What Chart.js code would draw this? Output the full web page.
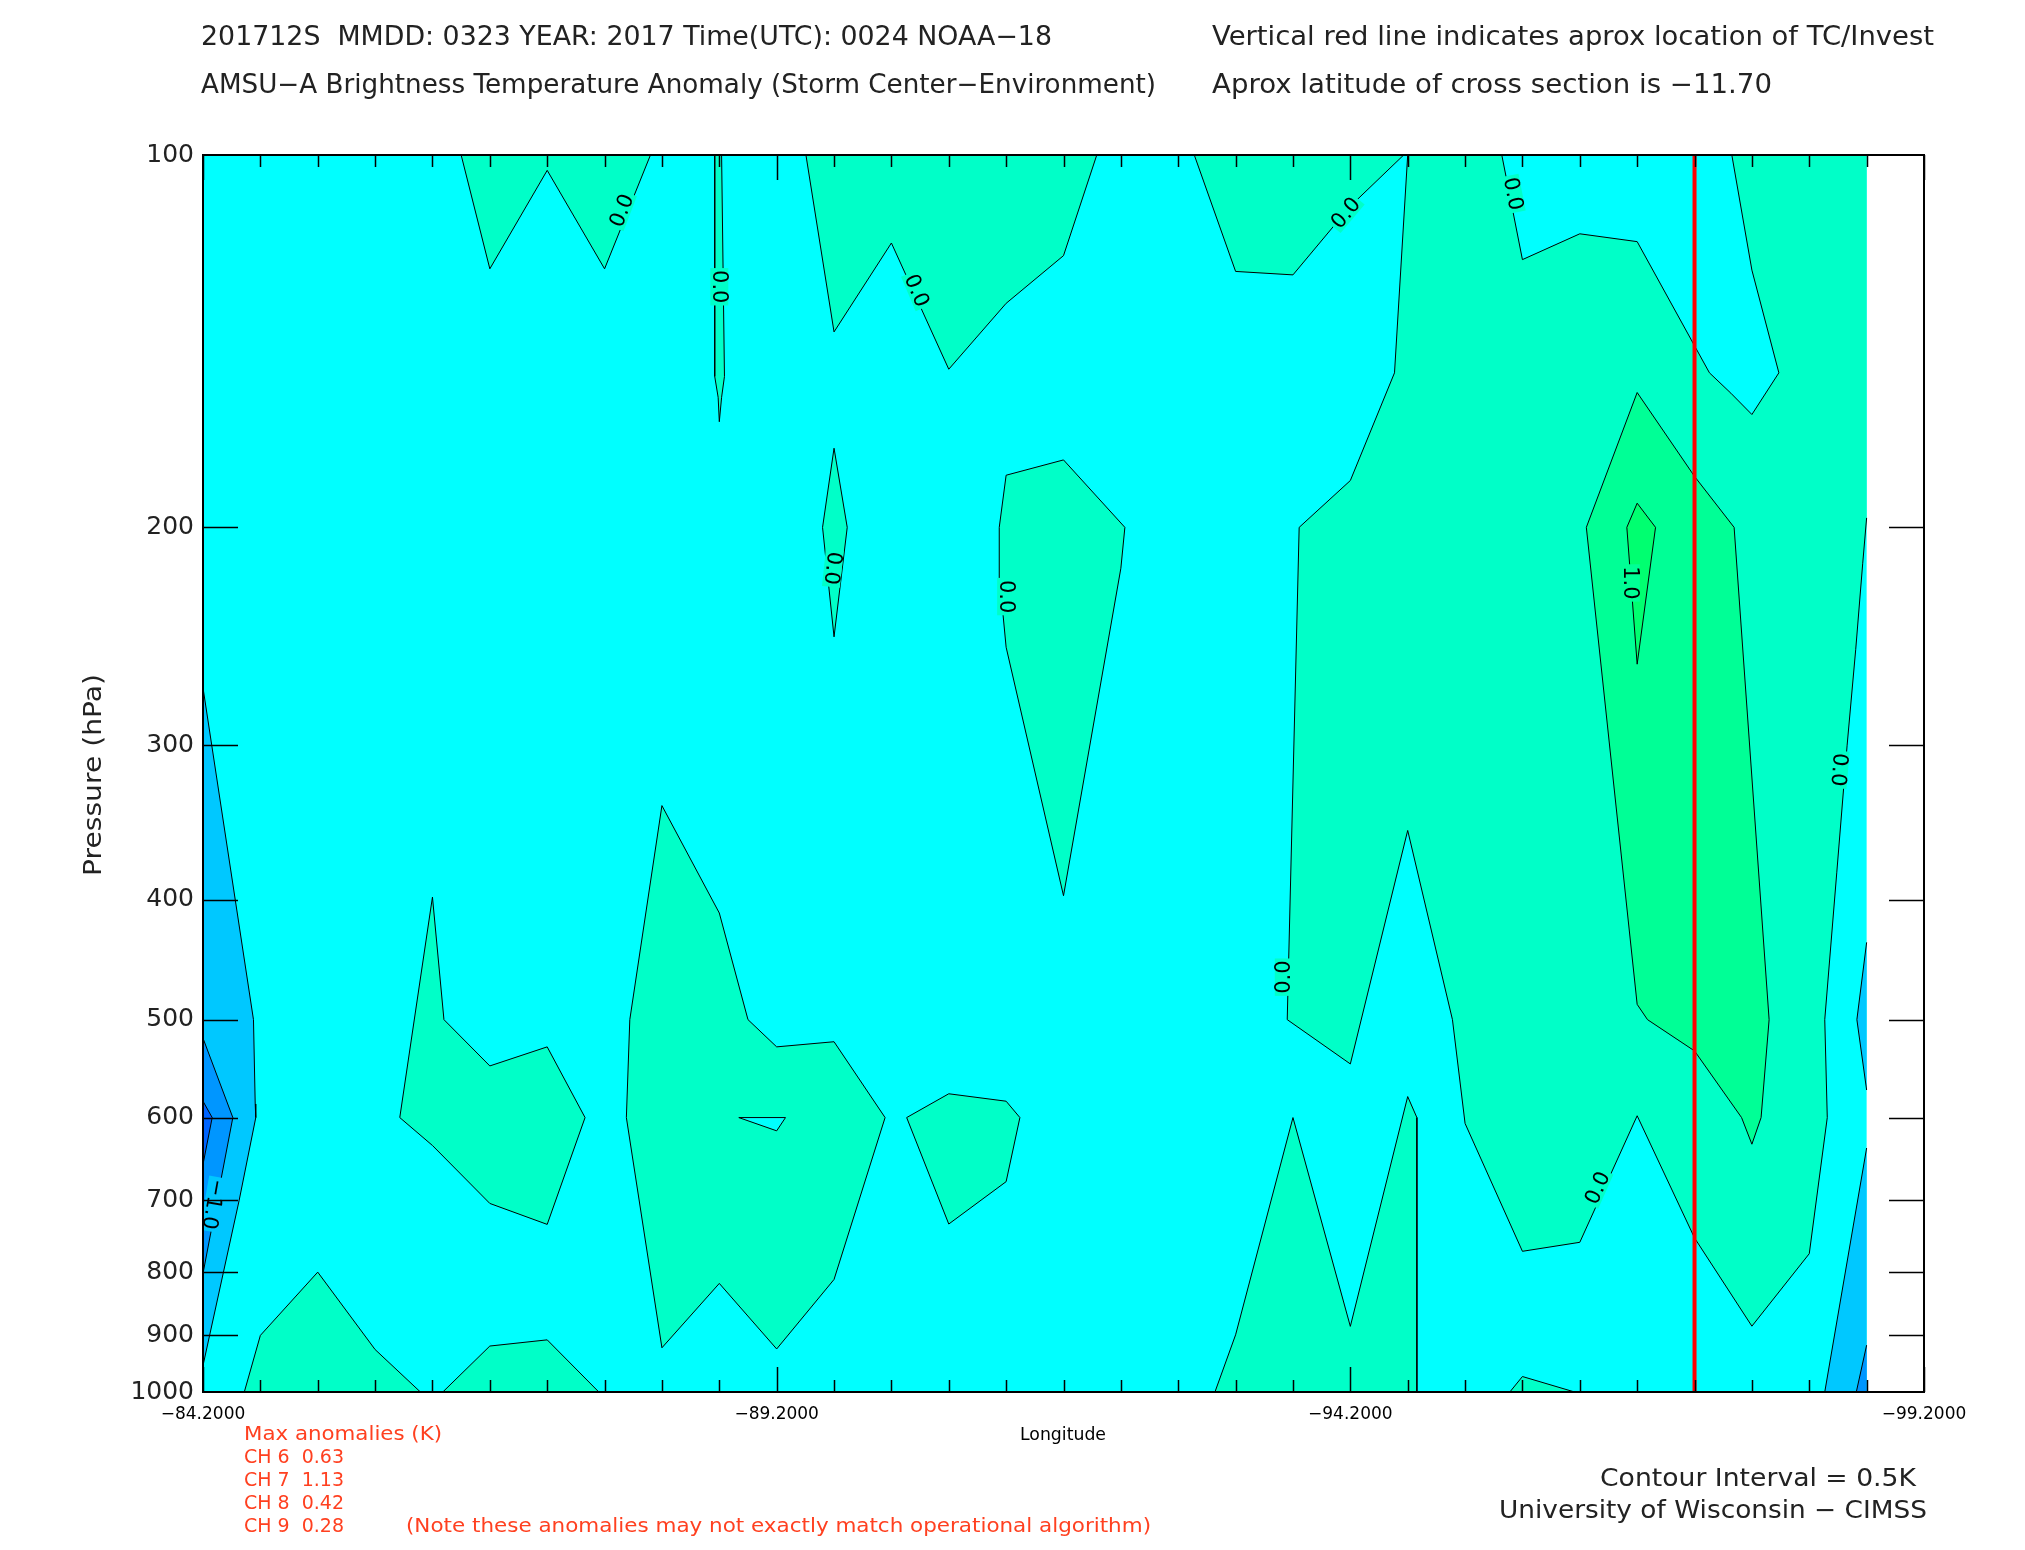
<!DOCTYPE html>
<html>
<head>
<meta charset="utf-8">
<title>AMSU-A Brightness Temperature Anomaly</title>
<script src="https://cdn.jsdelivr.net/npm/chart.js@4.4.0/dist/chart.umd.min.js"></script>
<style>
  html, body { margin: 0; padding: 0; background: #fff; }
  #wrap { width: 2025px; height: 1550px; }
</style>
</head>
<body>
<div id="wrap"><canvas id="chart" width="2025" height="1550"></canvas></div>
<script>
// Axes ------------------------
const xTicks = [-84.2, -89.2, -94.2, -99.2];
const yTicks = [100, 200, 300, 400, 500, 600, 700, 800, 900, 1000];
const stormLon = -97.2;

// data box (longitude, pressure hPa)
const dataBox = [[-84.2, 100], [-98.7, 100], [-98.7, 1000], [-84.2, 1000]];

// 0.0 .. 0.5 K regions
const zoneA = [[-86.45, 100], [-86.7, 123.6], [-87.2, 102.9], [-87.7, 123.6], [-88.10, 100]];
const zoneB = [[-88.66, 100], [-88.66, 151], [-88.69, 157], [-88.70, 164.3], [-88.72, 157], [-88.745, 151], [-88.72, 100]];
const zoneC = [[-89.455, 100], [-89.7, 139], [-90.2, 117.8], [-90.7, 149], [-91.2, 131.8], [-91.7, 120.6], [-91.99, 100]];
const zoneD = [[-89.7, 172.6], [-89.815, 200], [-89.7, 245.2], [-89.6, 200]];
const zoneE = [[-91.2, 181.5], [-91.7, 176.4], [-92.235, 200], [-92.2, 215.8], [-91.7, 397], [-91.2, 250], [-91.145, 221], [-91.14, 200]];
const zoneF = [[-85.915, 600], [-86.2, 398], [-86.3, 500], [-86.7, 545], [-87.2, 526], [-87.53, 600], [-87.2, 732], [-86.7, 704], [-86.2, 632]];
const zoneG = [[-88.2, 335.7], [-88.7, 410], [-88.95, 500], [-89.2, 526], [-89.7, 521], [-90.145, 600], [-89.7, 811], [-89.2, 923], [-88.7, 817], [-88.2, 921], [-87.89, 600], [-87.92, 500]];
const holeG = [[-88.87, 600], [-89.277, 600], [-89.2, 615]];
const zoneH = [[-90.333, 600], [-90.7, 574], [-91.2, 582], [-91.32, 600], [-91.2, 676], [-90.7, 731.5]];
const zoneI = [[-84.56, 1000], [-84.7, 900], [-85.2, 800], [-85.7, 924], [-86.095, 1000]];
const zoneJ = [[-86.29, 1000], [-86.7, 918], [-87.2, 907.5], [-87.65, 1000]];
const zoneK = [[-92.84, 100], [-93.2, 124.2], [-93.7, 125], [-94.2, 110], [-94.665, 100]];
const zoneL = [
  [-94.7, 100], [-94.585, 150], [-94.2, 183.3], [-93.754, 200], [-93.65, 500], [-94.2, 543], [-94.7, 351.6],
  [-95.09, 500], [-95.2, 606.6], [-95.7, 769.6], [-96.2, 756.8], [-96.7, 598], [-97.2, 750.7], [-97.7, 884.7],
  [-98.2, 773], [-98.357, 600], [-98.335, 500], [-98.44, 380], [-98.53, 300], [-98.605, 251], [-98.666, 213.8],
  [-98.7, 196.5], [-98.7, 100], [-97.525, 100], [-97.7, 123.9], [-97.935, 150], [-97.7, 162.1], [-97.517, 155.8],
  [-97.33, 150], [-96.7, 117.5], [-96.2, 115.8], [-95.7, 121.5], [-95.52, 100],
];
const zoneM = [[-93.02, 1000], [-93.2, 899], [-93.7, 600], [-94.2, 885], [-94.7, 577], [-94.78, 600], [-94.78, 1000]];
const zoneN = [[-95.59, 1000], [-95.7, 971.6], [-96.155, 1000]];

// 0.5 .. 1.0 K and > 1.0 K
const warmP = [[-96.7, 155.6], [-97.2, 181.9], [-97.545, 200], [-97.85, 500], [-97.78, 600], [-97.7, 630.5], [-97.61, 600], [-97.2, 530], [-96.79, 500], [-96.7, 486], [-96.257, 200]];
const warmQ = [[-96.7, 191.2], [-96.86, 200], [-96.7, 258], [-96.61, 200]];

// negative regions at the edges
const coldL1 = [[-84.2, 269.6], [-84.64, 500], [-84.655, 585], [-84.66, 600], [-84.515, 700], [-84.2, 952]];
const coldL2 = [[-84.2, 517.6], [-84.46, 600], [-84.2, 802]];
const coldL3 = [[-84.2, 582], [-84.28, 600], [-84.2, 654.6]];
const coldR1 = [[-98.7, 433], [-98.615, 500], [-98.7, 570]];
const coldR2 = [[-98.7, 635], [-98.335, 1000], [-98.7, 1000]];
const coldR3 = [[-98.7, 916.5], [-98.61, 1000], [-98.7, 1000]];

// contour labels
const labelLon = [-87.85, -88.70, -90.42, -89.69, -91.20, -94.16, -95.62, -96.645, -93.62, -96.355, -98.46, -84.29];
const labelP = [110.9, 127.8, 128.7, 215.8, 227.5, 111.4, 107.5, 221.8, 462, 684, 314, 705];
const labelText = ['0.0', '0.0', '0.0', '0.0', '0.0', '0.0', '0.0', '1.0', '0.0', '0.0', '0.0', '−1.0'];
const labelAngle = [-69, 90, 67, 96, 90, -50, 79, 90, -90, -66, 95, 100];

// Colors ----------------------
const CYAN = '#00ffff';
const AQUA = '#00ffc8';
const GREEN = '#00ff96';
const GREEN2 = '#00ff70';
const BLUE1 = '#00c8ff';
const BLUE2 = '#0096ff';
const BLUE3 = '#0064ff';
const NOTE_RED = '#ff4020';
const FONT = '"DejaVu Sans", sans-serif';
const labelFill = [AQUA, AQUA, AQUA, AQUA, AQUA, AQUA, AQUA, GREEN, AQUA, AQUA, AQUA, BLUE1];

const onFrame = (a, b) =>
  (a.x === b.x && (a.x === -84.2 || a.x === -98.7)) ||
  (a.y === b.y && (a.y === 100 || a.y === 1000));

const closed = pts => [...pts, pts[0]].map(([x, y]) => ({ x, y }));

const fillOf = ([pts, color]) => ({
  data: closed(pts),
  showLine: true,
  fill: 'shape',
  backgroundColor: color,
  borderColor: 'rgba(0,0,0,0)',
  borderWidth: 0,
  pointRadius: 0,
  tension: 0,
});

// contour line, without the parts that lie on the frame
const lineOf = ([pts]) => ({
  data: closed(pts),
  showLine: true,
  fill: false,
  borderColor: '#000',
  borderWidth: 1,
  pointRadius: 0,
  tension: 0,
  segment: {
    borderColor: c => (onFrame(c.p0.parsed, c.p1.parsed) ? 'rgba(0,0,0,0)' : '#000'),
  },
});

const regions = [
  ...[zoneA, zoneB, zoneC, zoneD, zoneE, zoneF, zoneG, zoneH, zoneI, zoneJ, zoneK, zoneL, zoneM, zoneN].map(z => [z, AQUA]),
  [holeG, CYAN],
  [warmP, GREEN],
  [warmQ, GREEN2],
  [coldL1, BLUE1],
  [coldL2, BLUE2],
  [coldL3, BLUE3],
  [coldR1, BLUE1],
  [coldR2, BLUE1],
  [coldR3, BLUE2],
];

const datasets = [
  fillOf([dataBox, CYAN]),
  ...regions.map(fillOf),
  ...regions.map(lineOf),
  {
    data: [{ x: stormLon, y: 100 }, { x: stormLon, y: 1000 }],
    showLine: true,
    fill: false,
    borderColor: '#ff0000',
    borderWidth: 4,
    pointRadius: 0,
  },
];
// paint in array order
datasets.forEach((d, i) => { d.order = datasets.length - i; });

// Plugins ---------------------
const putText = (ctx, str, x, y, size, width, color = '#000', rotate = 0) => {
  ctx.save();
  ctx.font = `${size}px ${FONT}`;
  ctx.fillStyle = color;
  ctx.textBaseline = 'middle';
  ctx.textAlign = 'left';
  ctx.translate(x, y);
  if (rotate) ctx.rotate(rotate);
  const w = ctx.measureText(str).width;
  if (width) ctx.scale(width / w, 1);
  ctx.fillText(str, 0, 0);
  ctx.restore();
};

const frameTicks = {
  id: 'frameTicks',
  afterDatasetsDraw(chart) {
    const { ctx, chartArea: a, scales: { x, y } } = chart;
    ctx.save();
    // contour labels, kept inside the plot
    ctx.save();
    ctx.beginPath();
    ctx.rect(a.left, a.top, a.right - a.left, a.bottom - a.top);
    ctx.clip();
    ctx.font = `21px ${FONT}`;
    ctx.textAlign = 'center';
    ctx.textBaseline = 'middle';
    labelText.forEach((t, i) => {
      const px = x.getPixelForValue(labelLon[i]);
      const py = y.getPixelForValue(labelP[i]);
      const w = ctx.measureText(t).width;
      ctx.save();
      ctx.translate(px, py);
      ctx.rotate((labelAngle[i] * Math.PI) / 180);
      ctx.fillStyle = labelFill[i];
      ctx.fillRect(-w / 2 - 2, -9, w + 4, 18);
      ctx.fillStyle = '#000';
      ctx.fillText(t, 0, 1);
      ctx.restore();
    });
    ctx.restore();

    ctx.strokeStyle = '#000';
    ctx.lineWidth = 1.5;
    ctx.beginPath();
    for (let i = 0; i <= 30; i++) {
      const v = +(-84.2 - 0.5 * i).toFixed(1);
      const px = Math.round(x.getPixelForValue(v)) + 0.5;
      const len = xTicks.includes(v) ? 25 : 12;
      ctx.moveTo(px, a.bottom);
      ctx.lineTo(px, a.bottom - len);
      ctx.moveTo(px, a.top);
      ctx.lineTo(px, a.top + len);
    }
    yTicks.slice(1, -1).forEach(v => {
      const py = Math.round(y.getPixelForValue(v)) + 0.5;
      ctx.moveTo(a.left, py);
      ctx.lineTo(a.left + 35, py);
      ctx.moveTo(a.right, py);
      ctx.lineTo(a.right - 35, py);
    });
    ctx.stroke();
    ctx.lineWidth = 2;
    ctx.strokeRect(a.left, a.top, a.right - a.left, a.bottom - a.top);
    ctx.restore();
  },
};

const pageTexts = {
  id: 'pageTexts',
  afterDraw(chart) {
    const { ctx } = chart;
    putText(ctx, '201712S  MMDD: 0323 YEAR: 2017 Time(UTC): 0024 NOAA−18', 201, 38, 26, 851, '#222');
    putText(ctx, 'AMSU−A Brightness Temperature Anomaly (Storm Center−Environment)', 201, 86, 26, 955, '#222');
    putText(ctx, 'Vertical red line indicates aprox location of TC/Invest', 1212, 38, 26, 722, '#222');
    putText(ctx, 'Aprox latitude of cross section is −11.70', 1212, 86, 26, 560, '#222');
    putText(ctx, 'Pressure (hPa)', 94, 876, 25, 202, '#222', -Math.PI / 2);
    putText(ctx, 'Longitude', 1020, 1436, 17, 86);
    putText(ctx, 'Max anomalies (K)', 244, 1435, 19, 198, NOTE_RED);
    putText(ctx, 'CH 6  0.63', 244, 1458, 19, 100, NOTE_RED);
    putText(ctx, 'CH 7  1.13', 244, 1481, 19, 100, NOTE_RED);
    putText(ctx, 'CH 8  0.42', 244, 1504, 19, 100, NOTE_RED);
    putText(ctx, 'CH 9  0.28', 244, 1527, 19, 100, NOTE_RED);
    putText(ctx, '(Note these anomalies may not exactly match operational algorithm)', 406, 1527, 19, 745, NOTE_RED);
    putText(ctx, 'Contour Interval = 0.5K', 1600, 1479, 25, 316, '#222');
    putText(ctx, 'University of Wisconsin − CIMSS', 1499, 1511, 25, 428, '#222');
  },
};

// Chart -----------------------
new Chart(document.getElementById('chart'), {
  type: 'scatter',
  data: { datasets },
  options: {
    responsive: false,
    animation: false,
    devicePixelRatio: 1,
    events: [],
    layout: { padding: { top: 155, right: 101, bottom: 0, left: 0 } },
    plugins: { legend: { display: false }, tooltip: { enabled: false } },
    scales: {
      x: {
        type: 'linear',
        reverse: true,
        min: -99.2,
        max: -84.2,
        grid: { display: false, drawTicks: false },
        border: { display: false },
        afterBuildTicks: s => { s.ticks = xTicks.map(value => ({ value })); },
        afterFit: s => { s.height = 158; },
        ticks: {
          autoSkip: false,
          maxRotation: 0,
          padding: 12,
          color: '#000',
          font: { family: FONT, size: 17 },
          callback: v => v.toFixed(4).replace('-', '−'),
        },
      },
      y: {
        type: 'logarithmic',
        reverse: true,
        min: 100,
        max: 1000,
        grid: { display: false, drawTicks: false },
        border: { display: false },
        afterBuildTicks: s => { s.ticks = yTicks.map(value => ({ value })); },
        afterFit: s => { s.width = 203; },
        ticks: {
          padding: 9,
          color: '#222',
          font: { family: FONT, size: 25 },
          callback: v => String(v),
        },
      },
    },
  },
  plugins: [frameTicks, pageTexts],
});
</script>
</body>
</html>
